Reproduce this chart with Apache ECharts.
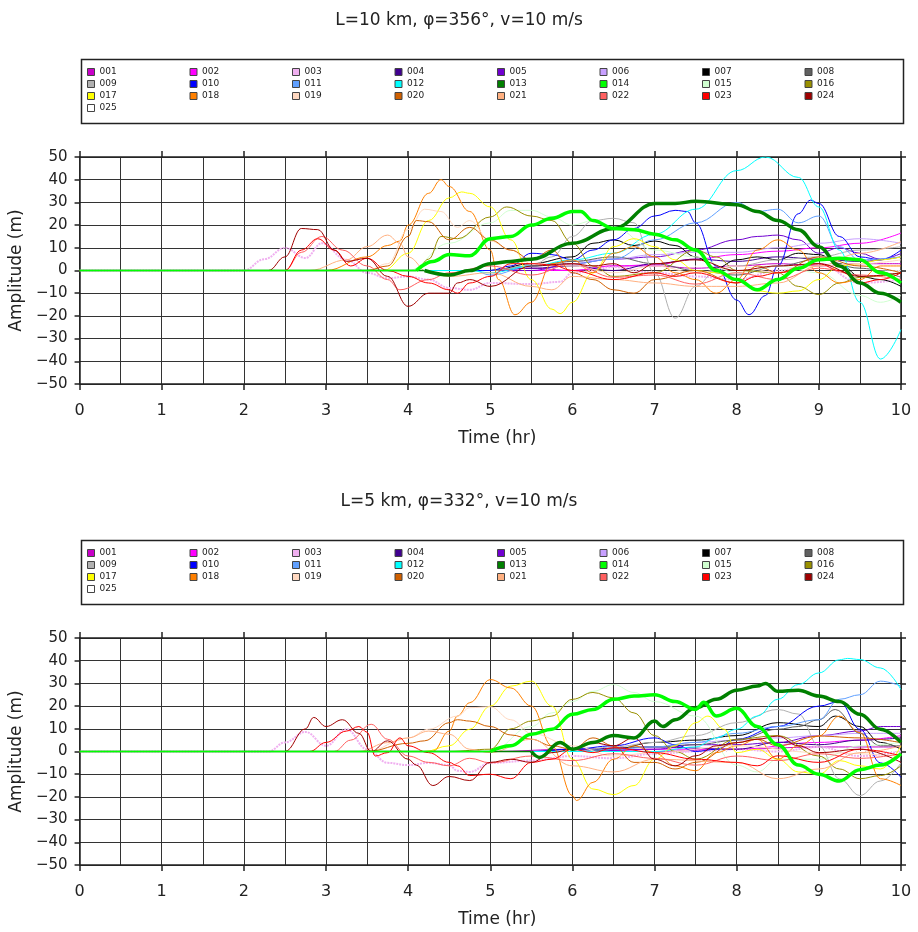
<!DOCTYPE html>
<html>
<head>
<meta charset="utf-8">
<title>Amplitude vs time</title>
<script src="https://cdn.jsdelivr.net/npm/echarts@6/dist/echarts.min.js"></script>
<style>
    html, body { margin: 0; padding: 0; background: #fff; }
    #chart { width: 918px; height: 932px; }
</style>
</head>
<body>
<div id="chart"></div>
<script>
// Panel titles
const panelTitles = ['L=10 km, φ=356°, v=10 m/s', 'L=5 km, φ=332°, v=10 m/s'];

// Gauge names and their colours
const seriesNames = ['001', '002', '003', '004', '005', '006', '007', '008', '009', '010',
    '011', '012', '013', '014', '015', '016', '017', '018', '019', '020',
    '021', '022', '023', '024', '025'];
const seriesColors = ['#c800c8', '#ff00ff', '#f0b0f0', '#400090', '#7000d0', '#c8a0ff', '#000000', '#606060', '#b0b0b0', '#0000ff',
    '#60a0ff', '#00ffff', '#008000', '#00ff00', '#d0ffd0', '#999000', '#ffff00', '#ff8000', '#ffd8c0', '#d06000',
    '#ffb080', '#ff6060', '#ff0000', '#a00000', '#ffffff'];
const thickSeries = ['013', '014'];

// Upper panel: [time (hr), amplitude (m)]
const topWaves = [
    [[0,0],[5,0],[5.5,1],[6,0],[6.5,2],[7,2],[7.5,1],[8,2],[8.5,3],[9,2],[9.5,3],[10,3]],
    [[0,0],[6,0],[6.5,2],[7,2.5],[7.5,5],[8,7],[8.5,8.5],[9,10],[9.5,12],[10,16.5]],
    [[0,0],[2,0],[2.25,5],[2.5,10],[2.75,5.5],[2.95,12],[3.25,4.7],[3.5,-1],[3.75,-3.4],[4,-2.6],[4.25,-4],[4.5,-7.7],[4.75,-8.5],[5,-5.5],[5.5,-6],[5.85,-5],[6,-1],[6.5,1.5],[7,-1],[7.5,-2.6],[8,-4],[8.5,0],[9,3],[9.5,-5.5],[10,-4]],
    [[0,0],[5,0],[5.5,1],[6,2],[6.5,0],[7,3],[7.5,5],[8,4],[8.5,6],[9,5],[9.5,4],[10,6]],
    [[0,0],[5.5,0],[6,3],[6.5,5],[7,6],[7.5,9],[8,13.5],[8.25,15],[8.5,15.6],[8.75,13.5],[9,7.6],[9.25,10],[9.5,7.6],[9.75,5],[10,7.5]],
    [[0,0],[5,0],[5.5,2],[6,4],[6.5,5],[7,7],[7.5,8],[8,8],[8.5,10],[9,12],[9.5,14],[10,12]],
    [[0,0],[5,0],[5.5,3],[6,6],[6.25,12],[6.5,13.5],[6.75,11],[7,13],[7.25,11],[7.5,6],[7.75,1],[8,4.7],[8.25,6],[8.5,4.7],[8.75,7.6],[9,7],[9.25,3],[9.5,-2.6],[9.75,-4],[10,-7]],
    [[0,0],[5,0],[5.5,2],[6,4],[6.5,6],[7,3],[7.5,0],[8,-2],[8.5,2],[9,5],[9.5,1],[10,-3]],
    [[0,0],[5,0],[5.5,2],[5.75,6],[6,15],[6.25,22],[6.5,23],[6.75,21],[7,-1],[7.25,-21],[7.5,-7],[7.75,0],[8,2],[8.5,4.7],[9,6],[9.5,9],[10,10.5]],
    [[0,0],[4.3,0],[5,0],[5.25,2],[5.5,7.6],[5.75,7],[6,4.7],[6.25,9],[6.5,13.5],[6.75,18.5],[7,24],[7.25,26.5],[7.4,26],[7.5,21],[7.75,2],[8,-13],[8.15,-19.5],[8.35,-11],[8.5,2],[8.75,25],[8.9,31],[9,29.5],[9.25,15],[9.5,6],[9.75,4.7],[10,9]],
    [[0,0],[4.8,0],[5,-2],[5.5,2],[6,3],[6.5,5],[7,13.5],[7.5,21],[8,30],[8.25,26],[8.5,27],[8.75,21],[9,24],[9.25,10.5],[9.5,4.7],[10,6]],
    [[0,0],[4.75,0],[5,-1],[5.5,2],[6,4.7],[6.5,7.6],[7,16],[7.5,27],[8,44],[8.35,50],[8.75,41],[9,28],[9.25,9],[9.5,-14],[9.75,-39],[10,-26]],
    [[0,0],[4.2,0],[4.5,-2],[4.75,0],[5,3],[5.25,4],[5.5,5],[6,12],[6.5,18.5],[7,29.5],[7.25,29.5],[7.5,30.5],[8,29],[8.25,26],[8.5,22],[8.75,18],[9,10.5],[9.25,2],[9.5,-5.5],[9.75,-10],[10,-14]],
    [[0,0],[4.1,0],[4.3,4],[4.5,7],[4.75,6.5],[5,14],[5.25,15],[5.5,20],[5.75,23],[6,26],[6.1,26],[6.25,22],[6.5,18.5],[6.75,18],[7,16],[7.25,13.5],[7.5,9],[7.75,0],[8,-4],[8.25,-8.5],[8.5,-4],[8.75,1],[9,4.7],[9.25,5.4],[9.5,4.7],[9.75,-1],[10,-5.5]],
    [[0,0],[4,0],[4.5,12],[5,21],[5.25,26.5],[5.5,26.5],[5.75,23.6],[6,20],[6.25,22],[6.5,19],[7,9],[7.5,6],[8,-1],[8.5,2],[9,-1],[9.5,-11],[9.75,-14],[10,-11]],
    [[0,0],[4.1,0],[4.25,5],[4.4,15],[4.6,14],[5,23.6],[5.2,28],[5.5,24],[5.75,22],[6,12],[6.25,2],[6.5,-2.6],[7,-1],[7.5,9],[7.75,6],[8,0],[8.5,-1],[8.75,-7],[9,-10.6],[9.25,-5.5],[9.5,-3],[10,-1]],
    [[0,0],[3.7,0],[4,7.6],[4.25,22],[4.5,32],[4.65,34.6],[4.75,34],[5,28],[5.25,13.5],[5.5,-4],[5.75,-17],[5.85,-19],[6,-14],[6.25,-1],[6.5,10.5],[6.75,14],[7,10.5],[7.25,4.7],[7.5,0],[7.75,-1],[8,-4],[8.25,-9],[8.5,-10],[8.75,-9],[9,-4],[9.25,2],[9.5,3],[9.75,4.7],[10,6]],
    [[0,0],[3,0],[3.5,6],[3.75,11],[3.9,13],[4,20],[4.25,34],[4.4,40],[4.5,37],[4.75,26],[5,9],[5.1,-4],[5.3,-19.5],[5.5,-14],[5.75,3],[6,4.7],[6.25,-1],[6.5,7.6],[6.75,10.5],[7,6],[7.25,-1],[7.5,-4],[7.75,-10],[8,-4],[8.25,9],[8.5,13.5],[8.75,9],[9,-1],[9.25,-5.5],[9.5,-4],[9.75,2],[10,2]],
    [[0,0],[3.5,0],[3.75,3],[4,18],[4.2,27],[4.4,26],[4.6,19],[4.75,22],[5,13],[5.25,9],[5.5,3],[6,2],[6.5,-1],[7,2],[7.5,-1],[8,2],[8.5,-1],[9,2],[9.5,3],[10,4.7]],
    [[0,0],[3.5,0],[3.75,2],[4,15],[4.1,22],[4.25,21.5],[4.5,13.5],[4.75,19],[5,13.5],[5.25,9],[5.5,4.7],[5.75,9],[6,-1],[6.25,-4],[6.5,-8.5],[6.75,-10],[7,-4],[7.5,0],[8,-5.5],[8.25,2],[8.5,-1],[9,6],[9.5,2],[10,-1]],
    [[0,0],[2.8,0],[3.25,4.7],[3.5,10.5],[3.75,15.6],[3.9,12],[4,6],[4.25,-1],[4.5,-2.6],[5,-1],[5.5,-7],[5.75,-8.5],[6,-2.6],[6.5,-4],[7,-5.5],[7.5,-7],[8,-7],[8.5,-5.5],[9,2],[9.5,7.6],[10,12.7]],
    [[0,0],[2.5,0],[2.7,8],[2.95,15],[3.2,9],[3.5,2],[3.75,-4],[3.9,-8.5],[4.25,-4],[4.5,-1],[5,2],[5.5,-2],[6,3],[6.5,-3],[7,-2],[7.5,-6],[8,-1],[8.5,-4],[9,1],[9.5,-2],[10,-4]],
    [[0,0],[2.5,0],[2.7,9],[2.9,14],[3.1,9],[3.3,2],[3.5,5.4],[3.75,0],[4,-2.6],[4.25,-5.5],[4.5,-8.5],[4.6,-10],[4.75,-5.5],[5,-2.6],[5.25,3],[5.5,3],[5.75,2.5],[6,0],[6.5,-4],[7,-1],[7.25,-2.6],[7.5,-1],[8,-5.5],[8.25,-2.6],[8.5,-1],[9,3],[9.25,0],[9.5,-5.5],[9.75,-4],[10,-1]],
    [[0,0],[2.3,0],[2.5,6],[2.7,18.5],[2.9,18],[3.1,9],[3.25,4],[3.5,5.4],[3.75,-2.6],[4,-15.8],[4.25,-10],[4.5,-10],[4.6,-5.5],[4.75,-4],[5,-7],[5.5,2],[6,3],[6.25,2],[6.5,3],[6.75,-1],[7,3],[7.5,4.7],[8,0],[8.5,2],[9,3],[9.5,-2.6],[10,-1]],
    [[0,0],[5,0],[7,2],[10,0]]
];

// Lower panel: [time (hr), amplitude (m)]
const bottomWaves = [
    [[0,0],[5,0],[6,1],[7,0],[8,1],[9,2],[10,2]],
    [[0,0],[6,0],[7,1],[8,1],[9,4],[9.5,5],[10,7]],
    [[0,0],[2.3,0],[2.5,4],[2.75,8.6],[3,2.5],[3.25,9.8],[3.5,1],[3.75,-5],[4,-6],[4.25,-5],[4.5,-6],[4.6,-8.5],[4.75,-9],[5,-5],[5.5,-4],[6,-2],[6.5,-3],[7,-1],[7.5,0],[8,1],[8.5,0],[9,2],[9.5,-2],[10,0]],
    [[0,0],[5.5,0],[6,1],[7,2],[8,1],[8.5,4],[9,3],[9.5,5],[10,6]],
    [[0,0],[6,0],[7,1],[7.5,3],[8,3],[8.5,4],[9,7],[9.5,9],[9.75,11],[10,11]],
    [[0,0],[6,0],[7,2],[7.5,4],[8,5],[8.5,6],[9,7],[9.5,8],[10,8]],
    [[0,0],[6,0],[6.5,1],[7,4],[7.5,5],[8,7],[8.5,12.7],[9,11],[9.2,15.6],[9.5,11],[9.75,4],[10,1]],
    [[0,0],[6,0],[7,2],[7.5,3],[8,5],[8.5,9.8],[8.75,11],[9,14],[9.2,18.5],[9.5,8],[9.75,2.5],[10,2.5]],
    [[0,0],[6,0],[6.5,2],[7,4],[7.5,7],[8,12.7],[8.5,18.5],[8.75,16.5],[9,2.5],[9.25,-12],[9.5,-19.4],[9.75,-13],[10,-5]],
    [[0,0],[5.5,0],[6,1],[6.5,2.5],[7,6],[7.25,3],[7.5,0],[7.75,1],[8,5.4],[8.5,11],[9,20],[9.25,22],[9.5,9.8],[9.75,-5],[10,-11.4]],
    [[0,0],[6,0],[6.5,1],[7,2],[7.5,4],[8,8],[8.5,11],[9,14],[9.25,23],[9.5,25],[9.75,31],[10,28.8]],
    [[0,0],[7,0],[7.5,2],[7.75,6],[8,9.8],[8.25,15.6],[8.5,23],[8.75,29.5],[9,34.6],[9.25,40.4],[9.35,41],[9.5,40.5],[9.75,36.8],[10,27.3]],
    [[0,0],[5,0],[5.5,0],[5.6,-2.6],[5.85,4],[6,1],[6.25,4],[6.5,7],[6.75,6],[7,13.4],[7.1,11],[7.25,14],[7.5,19.3],[7.75,23],[8,27],[8.25,28.8],[8.35,30],[8.5,26.5],[8.75,27],[9,24.4],[9.25,22],[9.5,16.4],[9.75,9.8],[10,4]],
    [[0,0],[5,0],[5.25,2.5],[5.5,7.6],[5.75,9.8],[6,16.4],[6.25,18.5],[6.5,23],[6.75,24.4],[7,25],[7.25,22],[7.5,18.5],[7.6,21.7],[7.75,15.6],[8,19],[8.25,11],[8.5,3],[8.75,-6],[9,-10],[9.25,-13],[9.5,-8],[9.75,-6],[10,-1]],
    [[0,0],[5,0],[5.5,11],[5.75,17],[6,22],[6.25,26.5],[6.5,29.5],[6.75,26],[7,22],[7.5,15.6],[8,-6],[8.25,-9],[8.5,-3.4],[9,-3.4],[9.5,2.5],[10,4]],
    [[0,0],[4.5,0],[5,1],[5.25,10],[5.5,13.4],[5.75,15.6],[6,23],[6.25,26],[6.5,23.6],[6.75,17],[7,7],[7.25,0],[7.5,-3.4],[8,5.4],[8.5,7],[9,-2],[9.25,-7.7],[9.5,-12],[9.75,-10.6],[10,-6.3]],
    [[0,0],[4.2,0],[4.5,2.5],[4.75,9.8],[5,20],[5.25,28.8],[5.5,31],[5.75,20],[6,-3.4],[6.25,-16.5],[6.5,-19],[6.75,-15],[7,-3.4],[7.25,2.5],[7.5,12.7],[7.65,15.6],[7.85,9.8],[8,-0.5],[8.25,1],[8.5,-3.4],[8.75,-9],[9,-10],[9.25,-4],[9.5,-6.3],[9.75,-7.7],[10,2.5]],
    [[0,0],[4.3,0],[4.5,9],[4.6,15.6],[4.75,21.5],[5,31.7],[5.25,28],[5.5,20],[5.75,2.5],[6,-19.4],[6.05,-21.6],[6.25,-13.6],[6.5,-3.4],[6.75,2.5],[7,-0.5],[7.25,-6.3],[7.5,-8.5],[7.75,-0.5],[8,2.5],[8.25,5.4],[8.5,-3.4],[8.75,2.5],[9,6.8],[9.25,15.6],[9.5,8.3],[9.75,-12],[10,-15]],
    [[0,0],[3.5,0],[4,6],[4.25,9.8],[4.6,15.6],[4.75,19.3],[5,19.7],[5.25,14],[5.5,8],[6,2.5],[6.5,-2],[7,-0.5],[8,2.5],[9,-0.5],[10,-2]],
    [[0,0],[3.5,0],[4,3.6],[4.2,4.7],[4.5,12.7],[4.6,14],[4.75,13.4],[5,11],[5.25,7.3],[5.5,5.4],[5.75,2.5],[6,1],[6.25,6],[6.5,2.5],[6.75,-4.8],[7,-4.8],[7.25,-7.7],[7.5,-4.8],[8,3.9],[8.25,5.4],[8.5,2.5],[9,6.8],[9.5,6],[10,3.9]],
    [[0,0],[3.4,0],[3.75,3.9],[4,6],[4.25,9],[4.5,7.6],[4.75,1],[5,-0.5],[5.5,5.4],[6,-6.3],[6.5,-9],[7,-3.4],[8,-4.8],[8.5,-12],[9,-7.7],[9.5,-0.5],[10,2.5]],
    [[0,0],[3.1,0],[3.3,5],[3.55,12],[3.75,5.4],[4,-2],[4.25,-4.8],[4.5,-6.3],[4.75,-3],[5,-5],[5.5,-2],[6,-4],[6.5,-1],[7,-3],[7.5,-6],[8,-2],[8.5,-4],[9,-1],[9.5,-3],[10,-1]],
    [[0,0],[2.8,0],[3,4],[3.25,9],[3.4,11],[3.5,8.5],[3.6,-2],[3.75,-0.5],[3.9,6],[4,2.5],[4.25,-0.5],[4.5,-4.8],[4.6,-6.3],[4.75,-10.6],[5,-10],[5.25,-12],[5.5,-4.8],[5.75,-3.4],[6,1],[6.25,-0.5],[6.5,1.7],[7,-0.5],[7.5,-3.4],[8,-4.8],[8.25,-6.3],[8.5,-1.9],[9,-4.8],[9.5,1],[10,-1.9]],
    [[0,0],[2.5,0],[2.75,10],[2.85,15],[3,11],[3.2,14],[3.4,8],[3.55,0],[3.75,4.7],[4,-3.4],[4.1,-6],[4.3,-15],[4.5,-11],[4.75,-12.8],[5,-4.8],[5.25,-3.4],[5.5,-4.8],[5.75,-0.5],[6,1],[6.25,3.9],[6.5,2.5],[6.75,6],[7,-3.4],[7.25,-6.3],[7.5,-1.9],[7.75,2.5],[8,3.9],[8.25,5.4],[8.5,6.8],[8.75,2.5],[9,-0.5],[9.5,1],[10,-4.8]],
    [[0,0],[10,0]]
];

// Layout of the two panels (pixels)
const panelTops = [157, 638];
const plotHeight = 227;
const legendTops = [62, 543];
const boxTops = [57, 538];

const axisColor = '#222';
const gridColor = '#333';
const fontFamily = 'DejaVu Sans';

const minusSign = v => String(v).replace('-', '\u2212');

// index of the last zero point before the wave arrives
const onsetIndex = wave => {
    let k = 0;
    while (k + 1 < wave.length && wave[k + 1][1] === 0) k++;
    return k;
};

const chart = echarts.init(document.getElementById('chart'));

const grids = [];
const xAxes = [];
const yAxes = [];
const series = [];
const titles = [];
const legends = [];
const boxes = [];

[topWaves, bottomWaves].forEach((waves, p) => {
    grids.push({ left: 79, width: 822, top: panelTops[p], height: plotHeight });

    titles.push({
        text: panelTitles[p],
        left: 'center',
        top: boxTops[p] - 50,
        textStyle: { fontFamily, fontSize: 17, fontWeight: 'normal', color: axisColor }
    });

    // bottom axis with labels and grid
    xAxes.push({
        type: 'value', gridIndex: p, min: 0, max: 10, interval: 1,
        name: 'Time (hr)', nameLocation: 'middle', nameGap: 46,
        nameTextStyle: { fontFamily, fontSize: 17, color: axisColor, padding: [0, 0, 0, 14] },
        axisLine: { show: true, onZero: false, lineStyle: { color: axisColor, width: 1.5 } },
        axisTick: { show: true, length: 6, lineStyle: { color: axisColor, width: 1.5 } },
        axisLabel: { fontFamily, fontSize: 16, color: axisColor, margin: 19 },
        splitLine: { show: true, lineStyle: { color: gridColor, width: 1 } },
        minorTick: { show: false, splitNumber: 2 },
        minorSplitLine: { show: true, lineStyle: { color: gridColor, width: 1 } }
    });
    // top axis: ticks only
    xAxes.push({
        type: 'value', gridIndex: p, position: 'top', min: 0, max: 10, interval: 1,
        axisLine: { show: true, onZero: false, lineStyle: { color: axisColor, width: 1.5 } },
        axisTick: { show: true, length: 6, lineStyle: { color: axisColor, width: 1.5 } },
        axisLabel: { show: false },
        splitLine: { show: false }
    });

    yAxes.push({
        type: 'value', gridIndex: p, min: -50, max: 50, interval: 10,
        name: 'Amplitude (m)', nameLocation: 'middle', nameGap: 50,
        nameTextStyle: { fontFamily, fontSize: 17, color: axisColor },
        axisLine: { show: true, onZero: false, lineStyle: { color: axisColor, width: 1.5 } },
        axisTick: { show: true, length: 5, lineStyle: { color: axisColor, width: 1.5 } },
        axisLabel: { fontFamily, fontSize: 15, color: axisColor, margin: 12, formatter: minusSign },
        splitLine: { show: true, lineStyle: { color: gridColor, width: 1 } }
    });
    yAxes.push({
        type: 'value', gridIndex: p, position: 'right', min: -50, max: 50, interval: 10,
        axisLine: { show: true, onZero: false, lineStyle: { color: axisColor, width: 1.5 } },
        axisTick: { show: true, length: 5, lineStyle: { color: axisColor, width: 1.5 } },
        axisLabel: { show: false },
        splitLine: { show: false }
    });

    const baseLine = (name, color, data, z) => ({
        name, type: 'line', xAxisIndex: p * 2, yAxisIndex: p * 2,
        data, color, showSymbol: false, z,
        lineStyle: { color, width: 1.5 }
    });

    const flatParts = [];
    waves.forEach((wave, i) => {
        const name = seriesNames[i];
        const color = seriesColors[i];
        const thick = thickSeries.includes(name);
        const k = thick ? onsetIndex(wave) : 0;
        if (thick) {
            // quiet part before arrival is drawn thin
            flatParts.push(baseLine(name, color, wave.slice(0, k + 1), 3));
        }
        series.push({
            name,
            type: 'line',
            xAxisIndex: p * 2,
            yAxisIndex: p * 2,
            data: wave.slice(k),
            color,
            showSymbol: false,
            smooth: 0.4,
            smoothMonotone: 'x',
            z: thick ? 4 : (name === '025' ? 2 : 3),
            lineStyle: {
                color,
                width: thick ? 3.5 : (name === '003' ? 2 : 1),
                type: name === '003' ? [2, 1] : 'solid'
            }
        });
    });
    series.push(...flatParts);

    legends.push({
        data: seriesNames,
        left: 82,
        top: legendTops[p],
        width: 830,
        orient: 'horizontal',
        icon: 'rect',
        itemWidth: 7,
        itemHeight: 7,
        itemGap: 2,
        selectedMode: false,
        itemStyle: { borderColor: '#444', borderWidth: 1 },
        textStyle: { fontFamily, fontSize: 9, color: axisColor, width: 88, lineHeight: 10 }
    });

    // frame round the legend
    boxes.push({
        type: 'rect',
        left: 79,
        top: boxTops[p],
        shape: { width: 822, height: 64 },
        style: { fill: 'none', stroke: '#222', lineWidth: 1.5 },
        silent: true
    });
});

chart.setOption({
    backgroundColor: '#fff',
    animation: false,
    title: titles,
    legend: legends,
    grid: grids,
    xAxis: xAxes,
    yAxis: yAxes,
    graphic: boxes,
    series
});
</script>
</body>
</html>
